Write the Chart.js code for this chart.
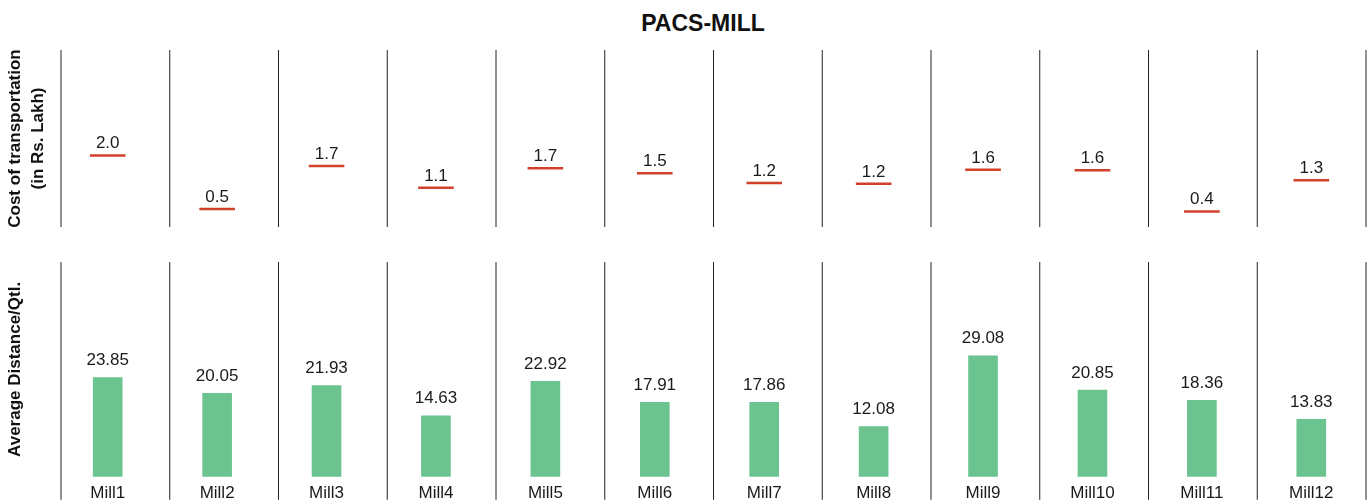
<!DOCTYPE html>
<html>
<head>
<meta charset="utf-8">
<script src="https://cdn.jsdelivr.net/npm/chart.js@4/dist/chart.umd.min.js"></script>
<style>
  html, body { margin: 0; padding: 0; background: #fff; overflow: hidden; width: 1372px; height: 504px; }
  #title { position: absolute; left: 0; top: 0; width: 1406px; text-align: center; font: bold 23px 'Liberation Sans', Arial, Helvetica, sans-serif; line-height: 46px; color: #111; }
  #topBox { position: absolute; left: 0; top: 0; width: 1372px; height: 227px; }
  #botBox { position: absolute; left: 0; top: 240px; width: 1372px; height: 270px; }
</style>
</head>
<body>
<div id="title">PACS-MILL</div>
<div id="topBox"><canvas id="costChart"></canvas></div>
<div id="botBox"><canvas id="distChart"></canvas></div>
<script>
// ---- data ----
const categories = ['Mill1','Mill2','Mill3','Mill4','Mill5','Mill6','Mill7','Mill8','Mill9','Mill10','Mill11','Mill12'];
const costValues = [2.02, 0.51, 1.72, 1.11, 1.66, 1.52, 1.24, 1.22, 1.62, 1.60, 0.44, 1.32];
const distanceValues = [23.85, 20.05, 21.93, 14.63, 22.92, 17.91, 17.86, 12.08, 29.08, 20.85, 18.36, 13.83];
const costTitle = ['Cost of transportation', '(in Rs. Lakh)'];
const distanceTitle = 'Average Distance/Qtl.';

// ---- styling ----
const FONT = "'Liberation Sans', Arial, Helvetica, sans-serif";
Chart.defaults.font.family = FONT;
Chart.defaults.color = '#1a1a1a';
const RED = '#d0402b';
const GREEN = '#6bc48f';

// separators between facets
function separatorPlugin(extraBottom) {
  return {
    id: 'separators',
    afterDraw(chart) {
      const {ctx, chartArea} = chart;
      const inset = 8;
      const left = chartArea.left + inset;
      const step = (chartArea.right - left) / categories.length;
      ctx.save();
      ctx.strokeStyle = '#222';
      ctx.lineWidth = 1;
      for (let i = 0; i <= categories.length; i++) {
        const x = left + i * step;
        ctx.beginPath();
        ctx.moveTo(x, chartArea.top);
        ctx.lineTo(x, chartArea.bottom + extraBottom);
        ctx.stroke();
      }
      ctx.restore();
    }
  };
}

// value labels above marks
function valueLabelPlugin(decimals, gap) {
  return {
    id: 'valueLabels',
    afterDatasetsDraw(chart) {
      const {ctx} = chart;
      const meta = chart.getDatasetMeta(0);
      const data = chart.data.datasets[0].data;
      ctx.save();
      ctx.font = '17px ' + FONT;
      ctx.fillStyle = '#1a1a1a';
      ctx.textAlign = 'center';
      ctx.textBaseline = 'alphabetic';
      meta.data.forEach((el, i) => {
        ctx.fillText(Number(data[i]).toFixed(decimals), el.x, el.y - gap);
      });
      ctx.restore();
    }
  };
}

function yAxis(titleText, max) {
  return {
    min: 0,
    max: max,
    grid: { display: false, drawTicks: false },
    border: { display: false },
    ticks: { display: false },
    title: {
      display: true,
      text: titleText,
      font: { size: 17, weight: 'bold', lineHeight: 1.37 },
      color: '#111',
      padding: { top: 3.3, bottom: 0 }
    },
    afterFit(scale) { scale.width = 53; }
  };
}

new Chart(document.getElementById('costChart'), {
  type: 'line',
  data: {
    labels: categories,
    datasets: [{
      data: costValues,
      showLine: false,
      pointStyle: 'line',
      pointRadius: 17.8,
      pointHoverRadius: 17.8,
      borderWidth: 2.5,
      pointBorderWidth: 2.5,
      borderColor: RED,
      backgroundColor: RED,
      pointBorderColor: RED
    }]
  },
  options: {
    responsive: true,
    maintainAspectRatio: false,
    animation: false,
    events: [],
    layout: { autoPadding: false, padding: { top: 50, right: 6, bottom: 0, left: 0 } },
    plugins: { legend: { display: false }, tooltip: { enabled: false } },
    scales: {
      x: { display: false, offset: true },
      y: yAxis(costTitle, 5)
    }
  },
  plugins: [separatorPlugin(1), valueLabelPlugin(1, 7)]
});

new Chart(document.getElementById('distChart'), {
  type: 'bar',
  data: {
    labels: categories,
    datasets: [{
      data: distanceValues,
      backgroundColor: GREEN,
      borderWidth: 0,
      barThickness: 29
    }]
  },
  options: {
    responsive: true,
    maintainAspectRatio: false,
    animation: false,
    events: [],
    layout: { autoPadding: false, padding: { top: 22, right: 6, bottom: 0, left: 0 } },
    plugins: { legend: { display: false }, tooltip: { enabled: false } },
    scales: {
      x: {
        offset: true,
        grid: { display: false, drawTicks: false },
        border: { display: false },
        ticks: { font: { size: 17 }, color: '#1a1a1a', padding: 6.4, maxRotation: 0, autoSkip: false }
      },
      y: yAxis(distanceTitle, 51.6)
    }
  },
  plugins: [separatorPlugin(23), valueLabelPlugin(2, 12.5)]
});
</script>
</body>
</html>
